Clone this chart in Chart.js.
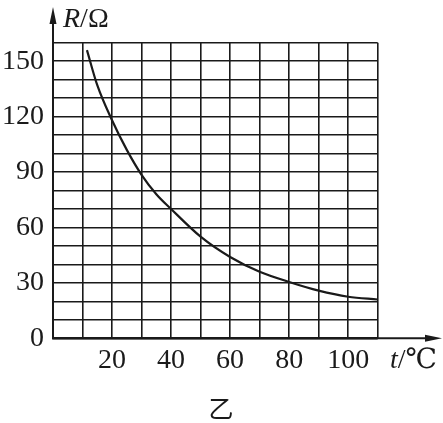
<!DOCTYPE html>
<html>
<head>
<meta charset="utf-8">
<script src="https://cdn.jsdelivr.net/npm/chart.js@4.4.1/dist/chart.umd.min.js"></script>
<style>
  html, body { margin: 0; padding: 0; background: #fff; }
  #wrap { width: 443px; height: 423px; position: relative; }
</style>
</head>
<body>
<div id="wrap"><canvas id="chart"></canvas></div>
<script>
// temperature (°C) and resistance (Ω)
const temps = [11.5, 15, 20, 25, 30, 35, 40, 50, 60, 70, 80, 90, 100, 110];
const resist = [156, 137, 118, 102, 88.5, 78, 70, 55, 44, 36, 30.5, 25.8, 22.5, 21];
const xTickLabels = [20, 40, 60, 80, 100];
const yTickLabels = [0, 30, 60, 90, 120, 150];
const caption = '乙';

const ink = '#1a1a1a';
const serif = "'Liberation Serif', 'Times New Roman', serif";

// arrows, axis names and caption
const extras = {
  id: 'extras',
  afterDraw(chart) {
    const ctx = chart.ctx;
    const x = chart.scales.x, y = chart.scales.y;
    const x0 = x.getPixelForValue(0), y0 = y.getPixelForValue(0);
    ctx.save();
    ctx.strokeStyle = ink;
    ctx.fillStyle = ink;
    ctx.lineWidth = 2;

    // y axis extension + arrow
    ctx.beginPath();
    ctx.moveTo(x0, y0);
    ctx.lineTo(x0, 14);
    ctx.stroke();
    ctx.beginPath();
    ctx.moveTo(x0, 7);
    ctx.lineTo(x0 - 3.5, 24);
    ctx.lineTo(x0 + 3.5, 24);
    ctx.closePath();
    ctx.fill();

    // x axis extension + arrow
    ctx.beginPath();
    ctx.moveTo(x0, y0);
    ctx.lineTo(434, y0);
    ctx.stroke();
    ctx.beginPath();
    ctx.moveTo(442, y0);
    ctx.lineTo(425, y0 - 3.5);
    ctx.lineTo(425, y0 + 3.5);
    ctx.closePath();
    ctx.fill();

    // axis names
    ctx.textBaseline = 'alphabetic';
    ctx.textAlign = 'left';
    ctx.font = 'italic 28px ' + serif;
    ctx.fillText('R', 63, 27);
    let w = ctx.measureText('R').width;
    ctx.font = '28px ' + serif;
    ctx.fillText('/Ω', 63 + w, 27);

    ctx.font = 'italic 28px ' + serif;
    ctx.fillText('t', 390, 368);
    w = ctx.measureText('t').width;
    ctx.font = "28px 'Liberation Serif', 'DejaVu Serif', 'Noto Sans CJK SC', serif";
    ctx.fillText('/℃', 390 + w, 368);

    // caption
    ctx.textAlign = 'center';
    ctx.font = "25px 'Noto Sans CJK SC', sans-serif";
    ctx.fillText(caption, 221, 418);
    ctx.restore();
  }
};

new Chart(document.getElementById('chart'), {
  type: 'line',
  data: {
    datasets: [{
      data: temps.map((t, i) => ({ x: t, y: resist[i] })),
      borderColor: ink,
      borderWidth: 2.2,
      pointRadius: 0,
      fill: false,
      cubicInterpolationMode: 'monotone'
    }]
  },
  options: {
    responsive: true,
    maintainAspectRatio: false,
    animation: false,
    layout: { padding: { left: 0, right: 65.3, top: 42.7, bottom: 44.7 } },
    plugins: { legend: { display: false }, tooltip: { enabled: false } },
    scales: {
      x: {
        type: 'linear',
        min: 0,
        max: 110,
        afterFit: (s) => { s.height = 40; },
        afterBuildTicks: (s) => {
          s.ticks = Array.from({ length: 12 }, (_, i) => ({ value: i * 10 }));
        },
        ticks: {
          padding: 6,
          color: ink,
          font: { family: serif, size: 28 },
          maxRotation: 0,
          autoSkip: false,
          callback: (v) => (xTickLabels.includes(v) ? String(v) : '')
        },
        grid: { color: ink, lineWidth: 1.6, drawTicks: false },
        border: { color: ink, width: 2 }
      },
      y: {
        min: 0,
        max: 160,
        afterFit: (s) => { s.width = 53; },
        afterBuildTicks: (s) => {
          s.ticks = Array.from({ length: 17 }, (_, i) => ({ value: i * 10 }));
        },
        ticks: {
          padding: 9,
          color: ink,
          font: { family: serif, size: 28 },
          autoSkip: false,
          callback: (v) => (yTickLabels.includes(v) ? String(v) : '')
        },
        grid: { color: ink, lineWidth: 1.6, drawTicks: false },
        border: { color: ink, width: 2 }
      }
    }
  },
  plugins: [extras]
});
</script>
</body>
</html>
